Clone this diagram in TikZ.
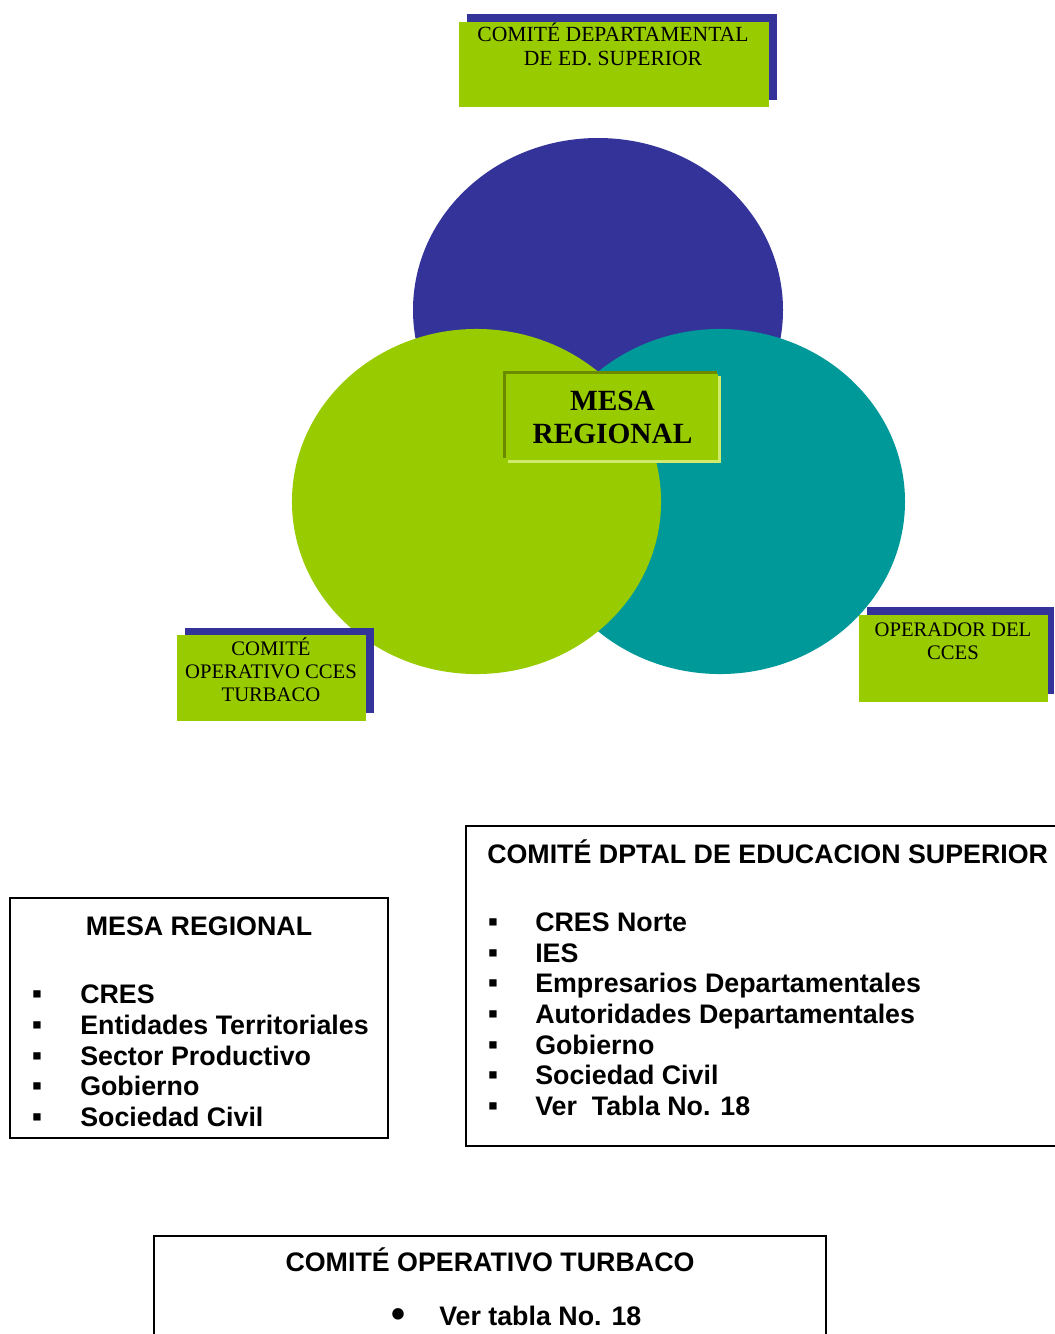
\documentclass[tikz,border=0pt]{standalone}
\usepackage{fontspec}
\setmainfont{Liberation Serif}
\setsansfont{Liberation Sans}
\definecolor{cblue}{HTML}{333399}
\definecolor{cgreen}{HTML}{99CC00}
\definecolor{cteal}{HTML}{009999}
\definecolor{cdark}{HTML}{6B8A00}
\definecolor{clight}{HTML}{D0EA6E}
\begin{document}
\begin{tikzpicture}[x=0.75pt,y=-0.75pt,
  lbl/.style={font=\fontsize{15.5}{18}\selectfont, anchor=base, inner sep=0pt},
  toplbl/.style={font=\fontsize{16.2}{18}\selectfont, anchor=base, inner sep=0pt},
  mesalbl/.style={font=\bfseries\fontsize{22}{25}\selectfont, anchor=base, inner sep=0pt},
  ttl/.style={font=\sffamily\bfseries\fontsize{20.1}{23}\selectfont, inner sep=0pt},
  itm/.style={font=\sffamily\bfseries\fontsize{20.1}{23}\selectfont, anchor=base west, inner sep=0pt},
  bul/.style={font=\sffamily\bfseries\fontsize{22}{23}\selectfont, anchor=base, inner sep=0pt},
  dotbul/.style={font=\sffamily\bfseries\fontsize{30}{30}\selectfont, anchor=base, inner sep=0pt},
  frame/.style={draw=black, line width=1.3pt}]
\useasboundingbox (0,0) rectangle (1054,1334);
\fill[white] (0,0) rectangle (1054,1334);
% circles
\fill[cblue] (598,310) ellipse [x radius=138.75pt, y radius=129pt];
\fill[cteal] (720,501.5) ellipse [x radius=138.75pt, y radius=129.4pt];
\fill[cgreen] (476.5,501.5) ellipse [x radius=138.4pt, y radius=129.4pt];
% top box
\fill[cblue] (467,14) rectangle (777,100);
\fill[cgreen] (459,22) rectangle (769,107);
\node[toplbl] (cd1) at (613,42) {COMITÉ DEPARTAMENTAL};
\node[toplbl] (cd2) at (613,65.5) {DE ED. SUPERIOR};
% mesa regional box
\fill[clight] (508,376) rectangle (721,463);
\fill[cdark] (503,371) rectangle (717,458);
\fill[cgreen] (506,374) rectangle (718,460);
\node[mesalbl] (m1) at (612.5,410) {MESA};
\node[mesalbl] (m2) at (612.5,443) {REGIONAL};
% comite operativo box
\fill[cblue] (185,628) rectangle (374,713);
\fill[cgreen] (177,635) rectangle (366,721);
\node[lbl] (co1) at (271,655) {COMITÉ};
\node[lbl] (co2) at (271,678) {OPERATIVO CCES};
\node[lbl] (co3) at (271,701) {TURBACO};
% operador box
\fill[cblue] (867,607) rectangle (1054,694);
\fill[cgreen] (859,615) rectangle (1048,702);
\node[lbl] (op1) at (953,636) {OPERADOR DEL};
\node[lbl] (op2) at (953,659) {CCES};
% list: mesa regional
\draw[frame] (10,898) rectangle (388,1138);
\node[ttl, anchor=base] (lt) at (199,935) {MESA REGIONAL};
\foreach \t [count=\i from 0] in {CRES,Entidades Territoriales,Sector Productivo,Gobierno,Sociedad Civil}{
  \node[bul] (lb\i) at (37,1003.5+30.75*\i) {▪};
  \node[itm] (li\i) at (80,1003.5+30.75*\i) {\t};
}
% list: comite dptal
\draw[frame] (1060,826) -- (466,826) -- (466,1146) -- (1060,1146);
\node[ttl, anchor=base west] (rt) at (487,863) {COMITÉ DPTAL DE EDUCACION SUPERIOR};
\foreach \t [count=\i from 0] in {CRES Norte,IES,Empresarios Departamentales,Autoridades Departamentales,Gobierno,Sociedad Civil,Ver\ \ Tabla No. 18}{
  \node[bul] (rb\i) at (493,931.5+30.67*\i) {▪};
  \node[itm] (ri\i) at (535,931.5+30.67*\i) {\t};
}
% list: comite operativo turbaco
\draw[frame] (154,1340) -- (154,1236) -- (826,1236) -- (826,1340);
\node[ttl, anchor=base] (bt) at (490,1271.5) {COMITÉ OPERATIVO TURBACO};
\node[dotbul] (bb) at (398,1327) {•};
\node[itm] (bi) at (439,1325.5) {Ver tabla No. 18};
\end{tikzpicture}
\end{document}
